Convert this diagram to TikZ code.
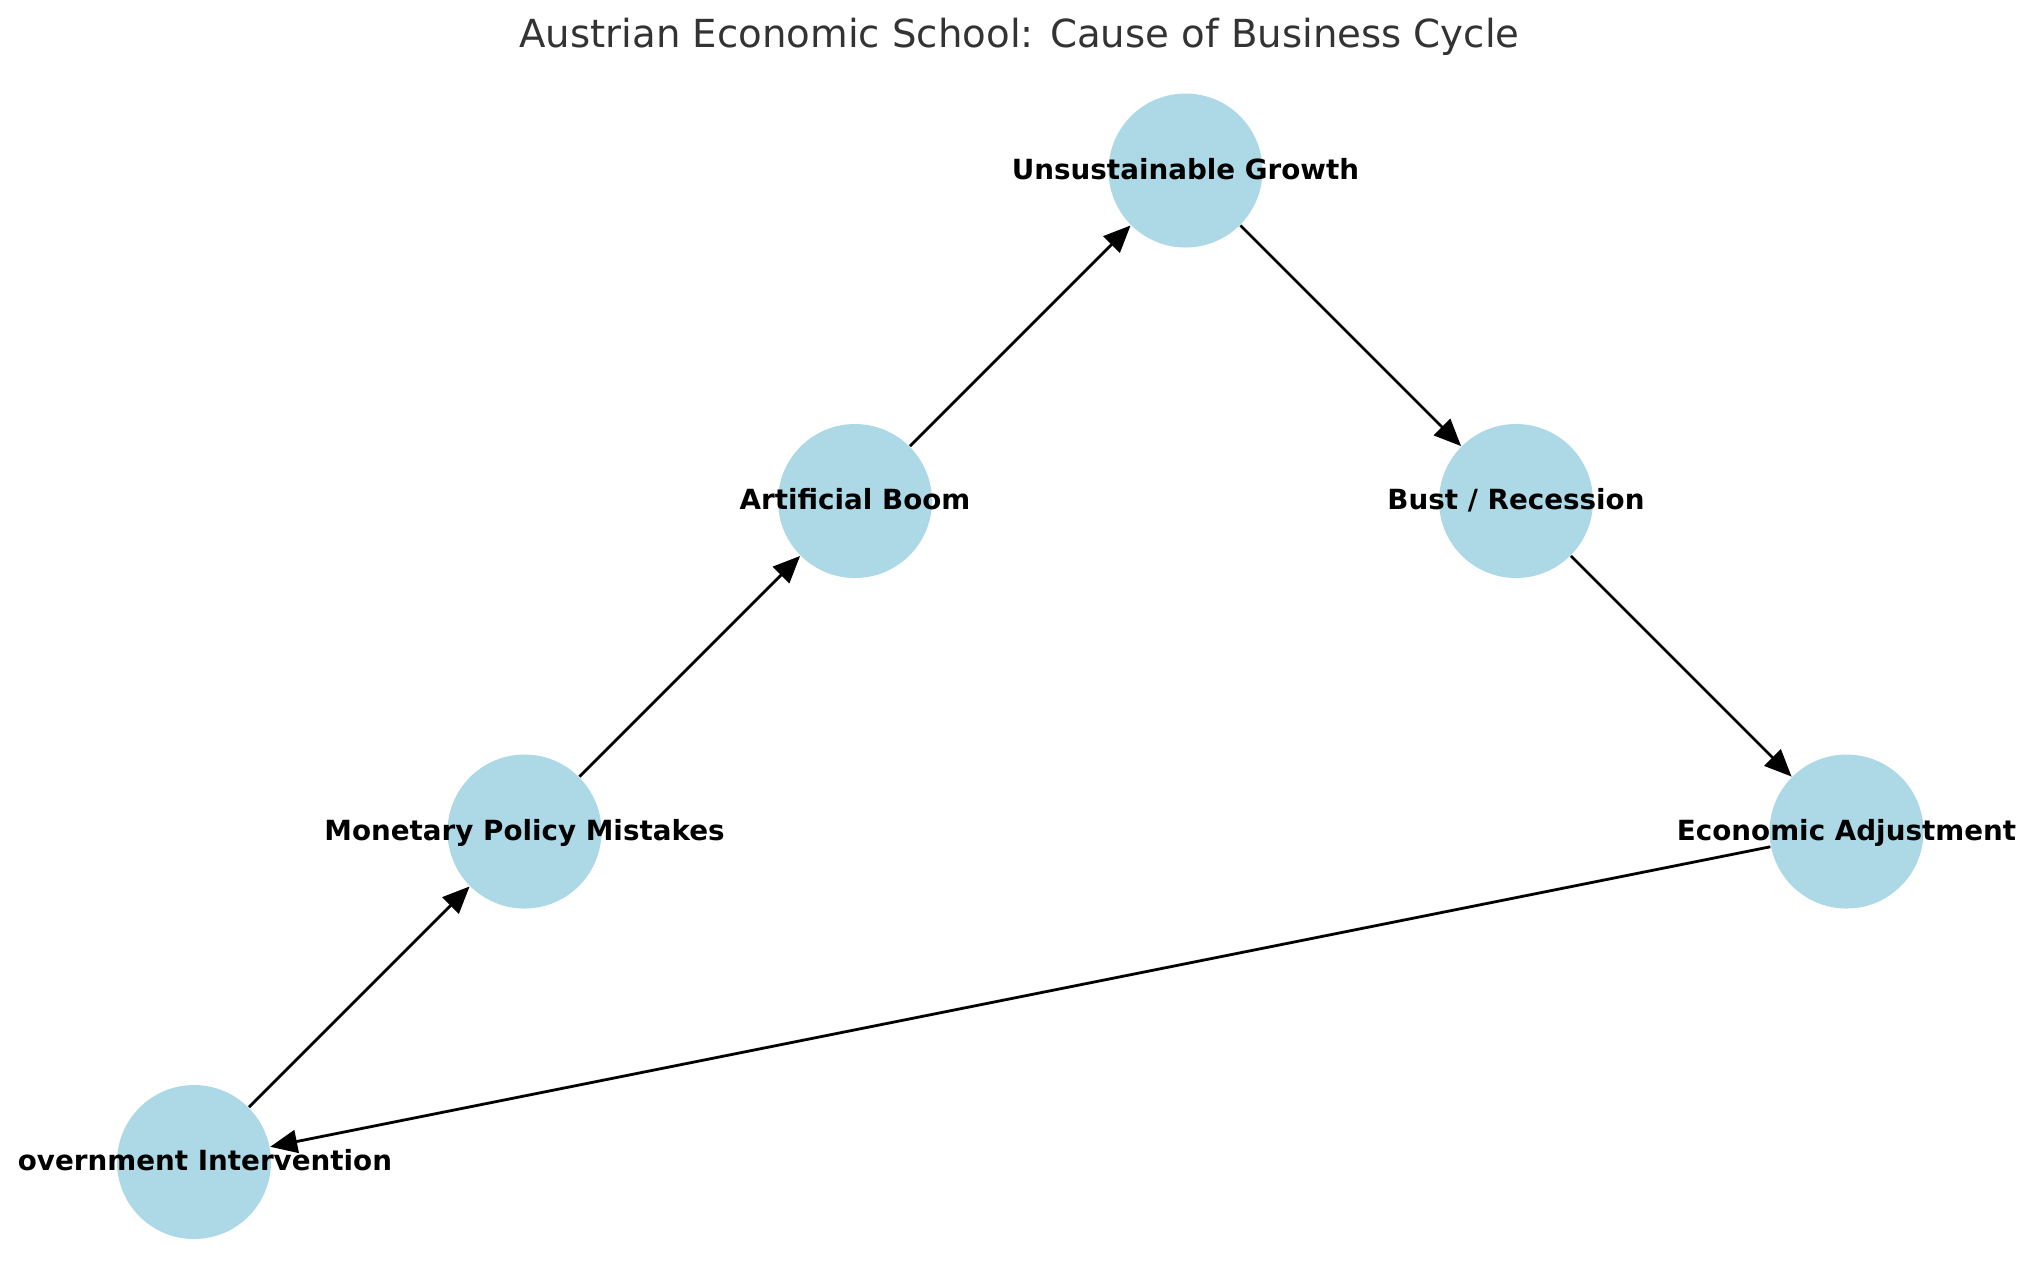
\documentclass[tikz,border=0pt]{standalone}
\usepackage{fontspec}
\setmainfont{DejaVu Sans}
\usepackage{xcolor}
\usetikzlibrary{positioning, arrows.meta}

\definecolor{nodeblue}{HTML}{ADD8E6}
\definecolor{titlegray}{HTML}{333333}

\tikzset{
    stage/.style={circle, fill=nodeblue, minimum size=1.54cm, inner sep=0pt},
    stagetext/.style={font=\fontsize{7.9}{9.5}\selectfont\bfseries, inner sep=0pt, text height=0.75em, text depth=0.25em},
    flow/.style={->, line width=0.8pt}
}

\begin{document}
\begin{tikzpicture}[node distance=3.305cm and 3.305cm, on grid, >={Triangle[length=2.7mm, width=2.3mm]}]
        \useasboundingbox (0,0) rectangle (20.39,-12.86);

        % Title
        \node (title) at (10.195,-0.37) [font=\fontsize{11}{13}\selectfont, text=titlegray] {Austrian Economic School: Cause of Business Cycle};

        % Nodes
        \node (gov) at (1.94,-11.62) [stage] {};
        \node (mon) [stage, above right=of gov] {};
        \node (boom) [stage, above right=of mon] {};
        \node (growth) [stage, above right=of boom] {};
        \node (bust) [stage, below right=of growth] {};
        \node (adj) [stage, below right=of bust] {};

        % Labels
        \node (govtext) at (gov) [stagetext, xshift=0.11cm] {overnment Intervention};
        \node (montext) at (mon) [stagetext] {Monetary Policy Mistakes};
        \node (boomtext) at (boom) [stagetext] {Artificial Boom};
        \node (growthtext) at (growth) [stagetext] {Unsustainable Growth};
        \node (busttext) at (bust) [stagetext] {Bust / Recession};
        \node (adjtext) at (adj) [stagetext] {Economic Adjustment};

        % Arrows
        \draw[flow] (gov) -- (mon);
        \draw[flow] (mon) -- (boom);
        \draw[flow] (boom) -- (growth);
        \draw[flow] (growth) -- (bust);
        \draw[flow] (bust) -- (adj);
        \draw[flow] (adj) -- (gov);

\end{tikzpicture}
\end{document}
